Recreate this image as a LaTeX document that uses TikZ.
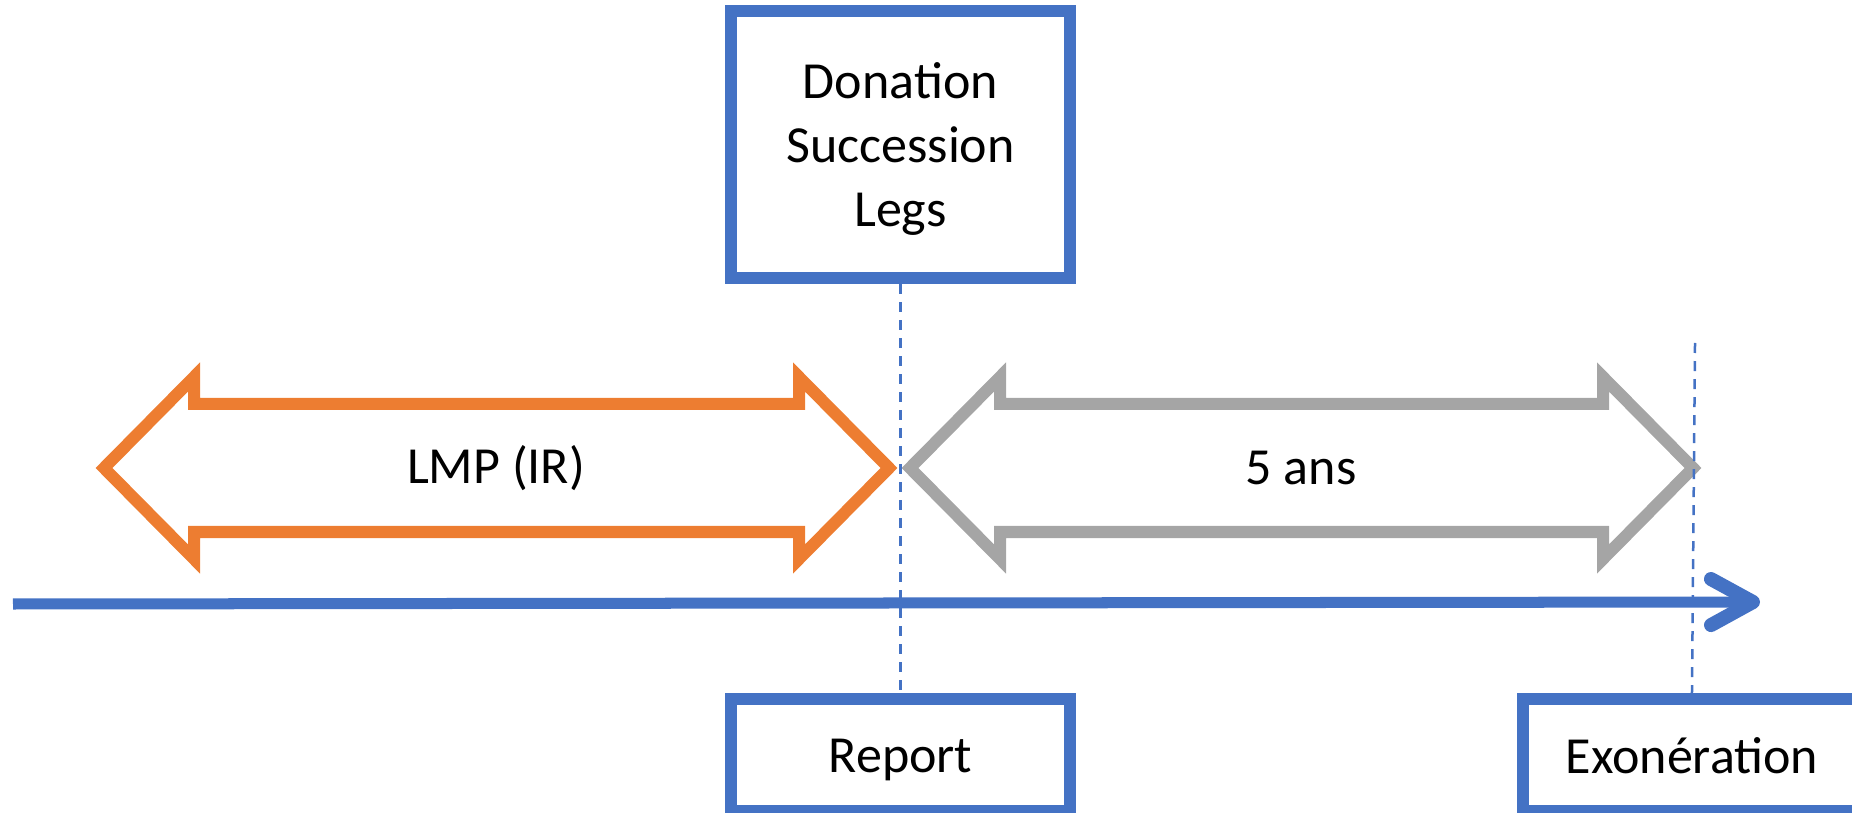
\documentclass[tikz,border=0pt]{standalone}
\usepackage{fontspec}
\setmainfont{Carlito}
\usepackage{tikz}
\usetikzlibrary{arrows.meta, positioning}
\definecolor{msBlue}{RGB}{68,114,196}
\definecolor{msOrange}{RGB}{237,125,49}
\definecolor{msGray}{RGB}{165,165,165}

\begin{document}
\begin{tikzpicture}[
    x=0.01cm, y=-0.01cm,
    every node/.style={font=\fontsize{14.8pt}{18.3pt}\selectfont},
    evt/.style  ={rectangle, draw=msBlue, fill=white, line width=0.12cm, align=center, minimum width=3.38cm, inner sep=0pt, text depth=0pt},
    band/.style ={line width=0.12cm, miter limit=10},
    guide/.style={draw=msBlue, line width=0.025cm, dash pattern=on 0.1cm off 0.08cm},
    axis/.style ={draw=msBlue, line width=0.11cm, -{Straight Barb[length=0.42cm, width=0.46cm, line width=0.14cm, round]}}
]
\useasboundingbox (0,0) rectangle (1852,813);
% events
\node[evt, minimum height=2.67cm] (dons) at (900.5,144.5) {Donation\\Succession\\Legs};
\node[evt, minimum height=1.12cm, below=4.09cm of dons] (report) {Report};
\node[evt, minimum height=1.12cm, right=4.41cm of report] (exo) {Exonération};
% periods
\draw[band, draw=msOrange] (104,468) -- (194,377) -- (194,404) -- (799,404) -- (799,377) -- (889,468)
    -- (799,559) -- (799,532) -- (194,532) -- (194,559) -- cycle;
\draw[band, draw=msGray] (910,468) -- (1000,377) -- (1000,404) -- (1603,404) -- (1603,377) -- (1693,468)
    -- (1603,559) -- (1603,532) -- (1000,532) -- (1000,559) -- cycle;
\node (lmp) at (496,468) {LMP (IR)};
\node (delai) at (1301,468) {5 ans};
% time axis
\coordinate (t0) at (13,604);
\coordinate (t1) at (1760,602);
\draw[axis] (t0) -- (t1);
% guides
\coordinate (exotop) at (1695,343);
\draw[guide] (dons.south) -- (report.north);
\draw[guide] (exotop) -- (exo.north);
\end{tikzpicture}
\end{document}
